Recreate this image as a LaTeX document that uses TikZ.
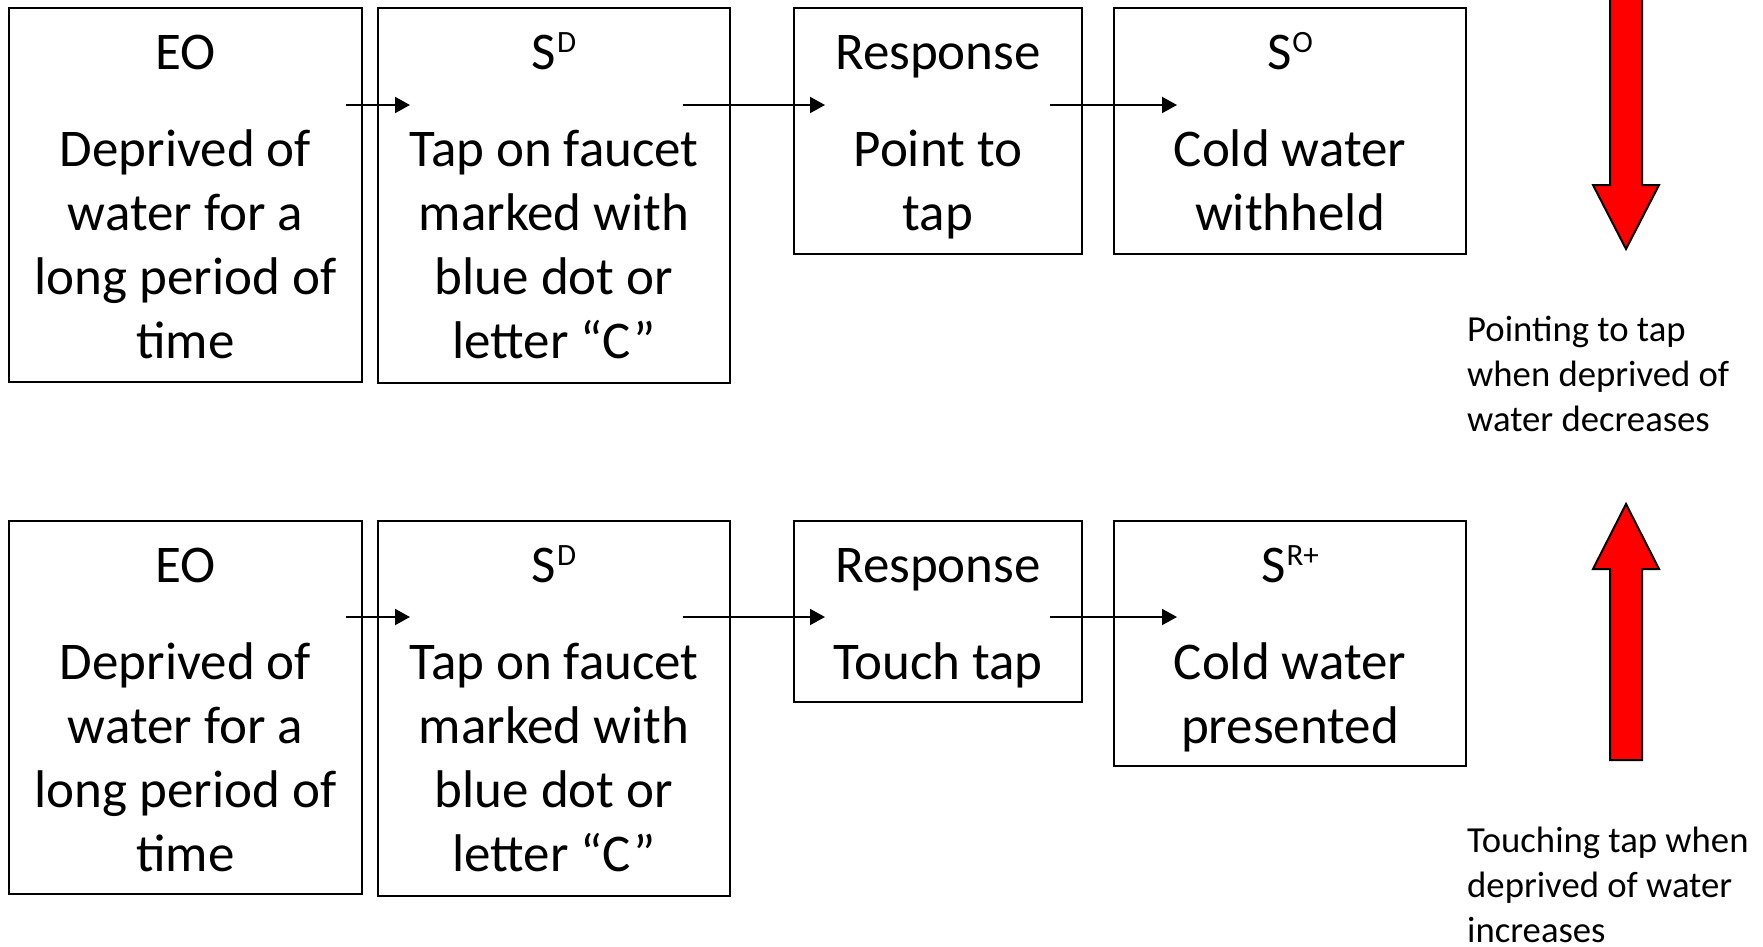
\documentclass[tikz,border=0pt]{standalone}
\usepackage{fontspec}
\setmainfont{Carlito}
\usetikzlibrary{arrows.meta}

% header text and superscript helpers
\newcommand\hdr[1]{{\fontsize{53}{64}\selectfont #1}}
\newcommand\supr[1]{\kern1pt\raisebox{17pt}{\fontsize{31}{31}\selectfont #1}}

\begin{document}
\begin{tikzpicture}[x=1pt,y=-1pt,
  box/.style={draw=black, line width=2pt, inner sep=0pt, outer sep=0pt, anchor=north west},
  boxtext/.style={anchor=north, inner sep=0pt, align=center, font=\fontsize{53}{64}\selectfont},
  sidetext/.style={anchor=north west, inner sep=0pt, align=left, font=\fontsize{36.7}{45}\selectfont},
  conn/.style={line width=2pt, -{Triangle[length=15pt,width=16pt]}},
  bigarrow/.style={fill=red, draw=black, line width=2pt, line join=miter}]
\useasboundingbox (0,0) rectangle (1763,947);
\fill[white] (0,0) rectangle (1763,947);

% ---- top row: extinction ----
\node[box, minimum width=353pt, minimum height=374pt] (eo1) at (9,8) {};
\node[box, minimum width=352pt, minimum height=375pt] (sd1) at (378,8) {};
\node[box, minimum width=288pt, minimum height=246pt] (rs1) at (794,8) {};
\node[box, minimum width=352pt, minimum height=246pt] (so1) at (1114,8) {};

\node[boxtext] (eo1t) at (eo1.north) {\rule{0pt}{61pt}\hdr{EO}\\[33pt]Deprived of\\water for a\\long period of\\time};
\node[boxtext] (sd1t) at (sd1.north) {\rule{0pt}{61pt}\hdr{S\supr{D}}\\[33pt]Tap on faucet\\marked with\\blue dot or\\letter “C”};
\node[boxtext] (rs1t) at (rs1.north) {\rule{0pt}{61pt}Response\\[33pt]Point to\\tap};
\node[boxtext] (so1t) at (so1.north) {\rule{0pt}{61pt}\hdr{S\supr{O}}\\[33pt]Cold water\\withheld};

\draw[conn, shorten <=-16pt, shorten >=-32pt] ([yshift=-97pt]eo1.north east) -- ([yshift=-97pt]sd1.north west);
\draw[conn, shorten <=-47pt, shorten >=-31pt] ([yshift=-97pt]sd1.north east) -- ([yshift=-97pt]rs1.north west);
\draw[conn, shorten <=-32pt, shorten >=-63pt] ([yshift=-97pt]rs1.north east) -- ([yshift=-97pt]so1.north west);

% ---- bottom row: reinforcement ----
\node[box, minimum width=353pt, minimum height=373pt] (eo2) at (9,521) {};
\node[box, minimum width=352pt, minimum height=375pt] (sd2) at (378,521) {};
\node[box, minimum width=288pt, minimum height=181pt] (rs2) at (794,521) {};
\node[box, minimum width=352pt, minimum height=245pt] (sr2) at (1114,521) {};

\node[boxtext] (eo2t) at (eo2.north) {\rule{0pt}{61pt}\hdr{EO}\\[33pt]Deprived of\\water for a\\long period of\\time};
\node[boxtext] (sd2t) at (sd2.north) {\rule{0pt}{61pt}\hdr{S\supr{D}}\\[33pt]Tap on faucet\\marked with\\blue dot or\\letter “C”};
\node[boxtext] (rs2t) at (rs2.north) {\rule{0pt}{61pt}Response\\[33pt]Touch tap};
\node[boxtext] (sr2t) at (sr2.north) {\rule{0pt}{61pt}\hdr{S\supr{R+}}\\[33pt]Cold water\\presented};

\draw[conn, shorten <=-16pt, shorten >=-32pt] ([yshift=-96pt]eo2.north east) -- ([yshift=-96pt]sd2.north west);
\draw[conn, shorten <=-47pt, shorten >=-31pt] ([yshift=-96pt]sd2.north east) -- ([yshift=-96pt]rs2.north west);
\draw[conn, shorten <=-32pt, shorten >=-63pt] ([yshift=-96pt]rs2.north east) -- ([yshift=-96pt]sr2.north west);

% ---- block arrows and notes ----
\draw[bigarrow] (1610,-5) -- (1610,185) -- (1593,185) -- (1626,249) -- (1659,185)
  -- (1642,185) -- (1642,-5) -- cycle;
\draw[bigarrow] (1626,504) -- (1659,569) -- (1642,569) -- (1642,760) -- (1610,760)
  -- (1610,569) -- (1593,569) -- cycle;

\node[sidetext] (note1) at (1467,311) {\rule{0pt}{30pt}Pointing to tap\\when deprived of\\water decreases};
\node[sidetext] (note2) at (1467,822) {\rule{0pt}{30pt}Touching tap when\\deprived of water\\increases};
\end{tikzpicture}
\end{document}
